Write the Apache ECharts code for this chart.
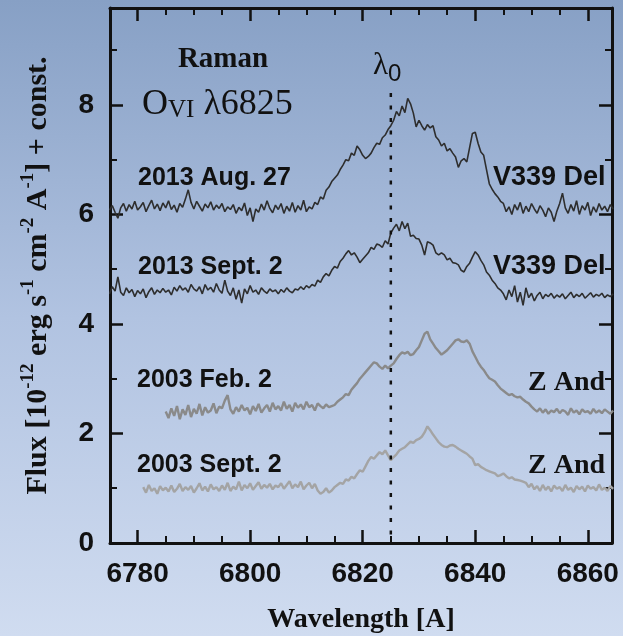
<!DOCTYPE html>
<html>
<head>
<meta charset="utf-8">
<script src="https://cdn.jsdelivr.net/npm/echarts@6/dist/echarts.min.js"></script>
<style>
html, body { margin: 0; padding: 0; }
body {
    width: 623px; height: 636px; overflow: hidden;
    background: linear-gradient(to bottom, #87a0c5 0%, #b1c3e1 50%, #d0dcf0 100%);
}
#chart { width: 623px; height: 636px; }
</style>
</head>
<body>
<div id="chart"></div>
<script>
// wavelength sampling of the spectra (Angstrom)
var step = 0.5;
var lambda0 = 6825;
var lambda0Top = 8.22;

// V339 Del, 2013 Aug. 27  (starts at 6775.0)
var aug27Start = 6775;
var aug27 = [
    6.08, 6.16, 6.04, 5.93, 6.12, 6.20, 6.06, 6.18, 6.10, 6.24, 6.08, 6.14, 6.22, 6.05, 6.16, 6.26, 6.10, 6.19, 6.07, 6.21,
    6.12, 6.25, 6.09, 6.17, 6.04, 6.20, 6.13, 6.28, 6.45, 6.22, 6.10, 6.24, 6.15, 6.06, 6.19, 6.12, 6.23, 6.08, 6.17, 6.11,
    6.20, 6.05, 6.14, 6.09, 6.18, 6.02, 6.13, 6.07, 6.21, 5.98, 6.12, 5.87, 6.10, 6.04, 6.19, 6.08, 6.25, 6.11, 6.03, 6.17,
    6.09, 6.20, 6.02, 6.15, 6.06, 6.22, 6.04, 6.16, 6.08, 6.26, 6.05, 6.14, 6.10, 6.22, 6.18, 6.32, 6.28, 6.44, 6.50, 6.60,
    6.66, 6.72, 6.82, 6.90, 7.00, 6.98, 7.12, 7.08, 7.25, 7.18, 7.08, 7.02, 7.06, 7.12, 7.22, 7.30, 7.28, 7.40, 7.45, 7.55,
    7.62, 7.72, 7.88, 7.80, 7.98, 7.86, 8.12, 8.02, 7.85, 7.60, 7.72, 7.62, 7.54, 7.64, 7.58, 7.62, 7.42, 7.36, 7.25, 7.30,
    7.16, 7.20, 7.12, 7.05, 6.86, 6.98, 7.02, 6.96, 7.22, 7.48, 7.50, 7.30, 7.14, 7.08, 6.82, 6.56, 6.46, 6.38, 6.32, 6.24,
    6.20, 6.05, 6.14, 6.00, 6.18, 6.08, 6.22, 6.02, 6.15, 6.05, 6.20, 6.10, 6.02, 6.16, 6.08, 5.96, 6.12, 6.04, 5.87, 6.06,
    6.20, 6.39, 6.12, 6.02, 6.18, 6.06, 6.25, 6.00, 6.16, 6.08, 6.22, 5.98, 6.14, 6.04, 6.20, 6.08, 6.15, 6.05, 6.18, 6.10
];

// V339 Del, 2013 Sept. 2  (starts at 6775.0)
var sept13Start = 6775;
var sept13 = [
    4.55, 4.68, 4.60, 4.86, 4.58, 4.52, 4.66, 4.57, 4.63, 4.50, 4.61, 4.55, 4.64, 4.48, 4.59, 4.66, 4.54, 4.62, 4.57, 4.65,
    4.58, 4.62, 4.53, 4.67, 4.60, 4.70, 4.62, 4.66, 4.58, 4.72, 4.64, 4.60, 4.68, 4.55, 4.72, 4.62, 4.67, 4.58, 4.74, 4.62,
    4.56, 4.80, 4.60, 4.52, 4.66, 4.45, 4.62, 4.38, 4.64, 4.55, 4.70, 4.58, 4.62, 4.54, 4.66, 4.60, 4.56, 4.64, 4.59, 4.62,
    4.55, 4.63, 4.58, 4.66, 4.60, 4.57, 4.64, 4.62, 4.68, 4.63, 4.70, 4.66, 4.72, 4.69, 4.80, 4.76, 4.86, 4.92, 4.88, 4.98,
    5.05, 5.02, 5.14, 5.20, 5.28, 5.34, 5.26, 5.30, 5.22, 5.12, 5.18, 5.24, 5.30, 5.40, 5.36, 5.46, 5.44, 5.40, 5.52, 5.46,
    5.66, 5.75, 5.82, 5.70, 5.87, 5.74, 5.84, 5.60, 5.62, 5.56, 5.55, 5.44, 5.26, 5.50, 5.48, 5.44, 5.30, 5.26, 5.30, 5.26,
    5.17, 5.20, 5.12, 5.11, 5.08, 4.98, 4.95, 5.05, 5.11, 5.22, 5.32, 5.26, 5.16, 5.08, 4.95, 4.89, 4.80, 4.74, 4.66, 4.62,
    4.55, 4.44, 4.62, 4.50, 4.70, 4.40, 4.58, 4.34, 4.66, 4.48, 4.56, 4.42, 4.52, 4.58, 4.46, 4.54, 4.50, 4.56, 4.47, 4.53,
    4.49, 4.55, 4.46, 4.52, 4.58, 4.48, 4.54, 4.50, 4.56, 4.47, 4.52, 4.57, 4.49, 4.54, 4.51, 4.56, 4.48, 4.53, 4.50, 4.55
];

// Z And, 2003 Feb. 2  (starts at 6785.0)
var feb03Start = 6785;
var feb03 = [
    2.40, 2.28, 2.46, 2.32, 2.50, 2.26, 2.44, 2.34, 2.52, 2.30, 2.45, 2.36, 2.54, 2.33, 2.48, 2.38, 2.42, 2.55, 2.37, 2.49,
    2.46, 2.60, 2.70, 2.44, 2.36, 2.48, 2.40, 2.52, 2.42, 2.47, 2.35, 2.50, 2.41, 2.54, 2.38, 2.46, 2.52, 2.40, 2.56, 2.44,
    2.50, 2.42, 2.58, 2.45, 2.52, 2.40, 2.56, 2.47, 2.53, 2.44, 2.58, 2.48, 2.52, 2.42, 2.55, 2.50, 2.46, 2.53, 2.48, 2.50,
    2.52, 2.58, 2.62, 2.66, 2.72, 2.70, 2.80, 2.86, 2.92, 3.00, 3.06, 3.12, 3.18, 3.24, 3.30, 3.28, 3.22, 3.18, 3.24, 3.19,
    3.24, 3.28, 3.36, 3.43, 3.48, 3.46, 3.49, 3.43, 3.45, 3.52, 3.58, 3.70, 3.82, 3.86, 3.72, 3.64, 3.56, 3.50, 3.44, 3.48,
    3.52, 3.58, 3.64, 3.70, 3.72, 3.68, 3.67, 3.70, 3.64, 3.50, 3.40, 3.30, 3.22, 3.16, 3.08, 3.01, 2.98, 2.95, 2.88, 2.82,
    2.78, 2.74, 2.70, 2.72, 2.68, 2.66, 2.67, 2.62, 2.58, 2.55, 2.49, 2.44, 2.40, 2.46, 2.38, 2.44, 2.36, 2.42, 2.39, 2.45,
    2.37, 2.43, 2.40, 2.34, 2.46, 2.38, 2.42, 2.35, 2.44, 2.39, 2.41, 2.36, 2.45, 2.38, 2.42, 2.37, 2.44, 2.40, 2.36, 2.42
];

// Z And, 2003 Sept. 2  (starts at 6781.0)
var sept03Start = 6781;
var sept03 = [
    1.02, 0.92, 1.06, 0.95, 1.00, 0.90, 1.04, 0.96,
    1.01, 0.94, 1.05, 0.93, 0.99, 1.08, 0.95, 1.02, 0.97, 1.04, 0.92, 1.00, 1.09, 0.96, 1.03, 0.94, 1.07, 0.98, 1.02, 0.95,
    1.05, 0.97, 1.10, 0.95, 1.03, 0.98, 1.12, 0.96, 1.06, 1.00, 1.09, 0.97, 1.04, 1.11, 0.99, 1.06, 1.01, 1.08, 0.98, 1.05,
    1.02, 1.09, 0.99, 1.06, 1.13, 1.00, 1.07, 1.02, 1.12, 0.98, 1.05, 1.10, 1.00, 1.08, 0.96, 0.90, 0.93, 1.00, 0.92, 0.96,
    1.02, 1.06, 1.10, 1.08, 1.16, 1.14, 1.21, 1.18, 1.26, 1.33, 1.30, 1.40, 1.50, 1.57, 1.54, 1.60, 1.66, 1.62, 1.69, 1.60,
    1.51, 1.57, 1.62, 1.69, 1.72, 1.75, 1.80, 1.85, 1.83, 1.88, 1.90, 1.94, 2.02, 2.13, 2.06, 1.98, 1.91, 1.84, 1.79, 1.76,
    1.75, 1.78, 1.79, 1.76, 1.72, 1.69, 1.66, 1.63, 1.58, 1.54, 1.42, 1.44, 1.39, 1.36, 1.33, 1.31, 1.29, 1.27, 1.22, 1.24,
    1.27, 1.22, 1.18, 1.20, 1.16, 1.15, 1.14, 1.12, 1.10, 1.02, 1.08, 0.98, 1.04, 0.95, 1.06, 0.97, 1.03, 0.94, 1.05, 0.99,
    1.02, 0.95, 1.06, 0.97, 1.01, 0.93, 1.04, 0.98, 1.03, 0.94, 1.05, 0.99, 1.02, 0.96, 1.07, 0.97, 1.01, 0.95, 1.04, 0.99
];

function toPoints(start, values) {
    return values.map(function(v, i) {
        return [start + i * step, v];
    });
}

var sans = '"Liberation Sans", Arial, sans-serif';
var serif = '"Liberation Serif", "Times New Roman", serif';
var ink = '#111';

function axisCommon(showLabels) {
    return {
        axisLine: { show: true, onZero: false, lineStyle: { color: ink, width: 3 } },
        axisTick: { show: true, inside: true, length: 13, lineStyle: { color: ink, width: 2.5 } },
        minorTick: { show: true, length: 7, lineStyle: { color: ink, width: 2 } },
        splitLine: { show: false },
        axisLabel: { show: showLabels }
    };
}

var xBottom = axisCommon(true);
xBottom.type = 'value';
xBottom.position = 'bottom';
xBottom.min = 6775.1;
xBottom.max = 6864.3;
xBottom.minorTick.splitNumber = 4;
xBottom.axisLabel = {
    show: true, color: ink, fontFamily: sans, fontWeight: 'bold', fontSize: 28, margin: 17,
    formatter: function(v) { return Math.abs(v % 20) < 1e-6 ? String(v) : ''; }
};
xBottom.name = 'Wavelength [A]';
xBottom.nameLocation = 'middle';
xBottom.nameGap = 63;
xBottom.nameTextStyle = { color: ink, fontFamily: serif, fontWeight: 'bold', fontSize: 28 };

var xTop = axisCommon(false);
xTop.type = 'value';
xTop.position = 'top';
xTop.min = 6775.1;
xTop.max = 6864.3;
xTop.minorTick.splitNumber = 4;

var yLeft = axisCommon(true);
yLeft.type = 'value';
yLeft.position = 'left';
yLeft.min = 0;
yLeft.max = 9.77;
yLeft.interval = 2;
yLeft.minorTick.splitNumber = 2;
yLeft.axisLabel = {
    show: true, color: ink, fontFamily: sans, fontWeight: 'bold', fontSize: 28, margin: 16,
    formatter: function(v) { return Math.abs(v % 2) < 1e-6 ? String(v) : ''; }
};
yLeft.name = '{m|Flux [10}{s|-12}{m| erg s}{s|-1}{m| cm}{s|-2}{m| A}{s|-1}{m|] + const.}';
yLeft.nameLocation = 'middle';
yLeft.nameGap = 53;
yLeft.nameTextStyle = {
    color: ink,
    rich: {
        m: { fontFamily: serif, fontWeight: 'bold', fontSize: 30, lineHeight: 38, color: ink },
        s: { fontFamily: serif, fontWeight: 'bold', fontSize: 19, lineHeight: 22, verticalAlign: 'top', color: ink }
    }
};

var yRight = axisCommon(false);
yRight.type = 'value';
yRight.position = 'right';
yRight.min = 0;
yRight.max = 9.77;
yRight.interval = 2;
yRight.minorTick.splitNumber = 2;

function label(text, x, y, font, align) {
    return {
        type: 'text', x: x, y: y, z: 100,
        style: { text: text, font: font, fill: ink, align: align || 'left', verticalAlign: 'middle' }
    };
}

var option = {
    animation: false,
    grid: { left: 110, right: 11, top: 8, bottom: 93, containLabel: false, outerBoundsMode: 'none' },
    xAxis: [xBottom, xTop],
    yAxis: [yLeft, yRight],
    series: [
        {
            name: '2013 Aug. 27', type: 'line', data: toPoints(aug27Start, aug27),
            showSymbol: false, symbol: 'none',
            lineStyle: { color: '#2e2e2e', width: 1.6 }
        },
        {
            name: '2013 Sept. 2', type: 'line', data: toPoints(sept13Start, sept13),
            showSymbol: false, symbol: 'none',
            lineStyle: { color: '#2e2e2e', width: 1.6 }
        },
        {
            name: '2003 Feb. 2', type: 'line', data: toPoints(feb03Start, feb03),
            showSymbol: false, symbol: 'none',
            lineStyle: { color: '#8a8a8a', width: 2.4 }
        },
        {
            name: '2003 Sept. 2', type: 'line', data: toPoints(sept03Start, sept03),
            showSymbol: false, symbol: 'none',
            lineStyle: { color: '#a4a4a4', width: 2.4 }
        },
        {
            name: 'lambda0', type: 'line', data: [[lambda0, lambda0Top], [lambda0, 0]],
            showSymbol: false, symbol: 'none',
            lineStyle: { color: ink, width: 2.5, type: [4, 8.5] }
        }
    ],
    graphic: [
        label('Raman', 223, 60, 'bold 29px ' + serif, 'center'),
        {
            type: 'text', x: 142, y: 105, z: 100,
            style: {
                text: '{o|O}{v|VI}{o| λ6825}', fill: ink, verticalAlign: 'middle',
                rich: {
                    o: { fontFamily: serif, fontSize: 36, lineHeight: 36, verticalAlign: 'bottom', fill: ink },
                    v: { fontFamily: serif, fontSize: 25, lineHeight: 25, verticalAlign: 'bottom', fill: ink }
                }
            }
        },
        {
            type: 'text', x: 373, y: 68, z: 100,
            style: {
                text: '{l|λ}{d|0}', fill: ink, verticalAlign: 'middle',
                rich: {
                    l: { fontFamily: serif, fontSize: 31, lineHeight: 36, verticalAlign: 'top', fill: ink },
                    d: { fontFamily: sans, fontSize: 24, lineHeight: 24, verticalAlign: 'bottom', fill: ink }
                }
            }
        },
        label('2013 Aug. 27', 138, 178, 'bold 25px ' + sans),
        label('V339 Del', 493, 178, 'bold 27px ' + sans),
        label('2013 Sept. 2', 138, 267, 'bold 25px ' + sans),
        label('V339 Del', 493, 267, 'bold 27px ' + sans),
        label('2003 Feb. 2', 137, 380, 'bold 25px ' + sans),
        label('Z And', 528, 383, 'bold 28px ' + serif),
        label('2003 Sept. 2', 137, 465, 'bold 25px ' + sans),
        label('Z And', 528, 466, 'bold 28px ' + serif)
    ]
};

var myChart = echarts.init(document.getElementById('chart'));
myChart.setOption(option);
</script>
</body>
</html>
